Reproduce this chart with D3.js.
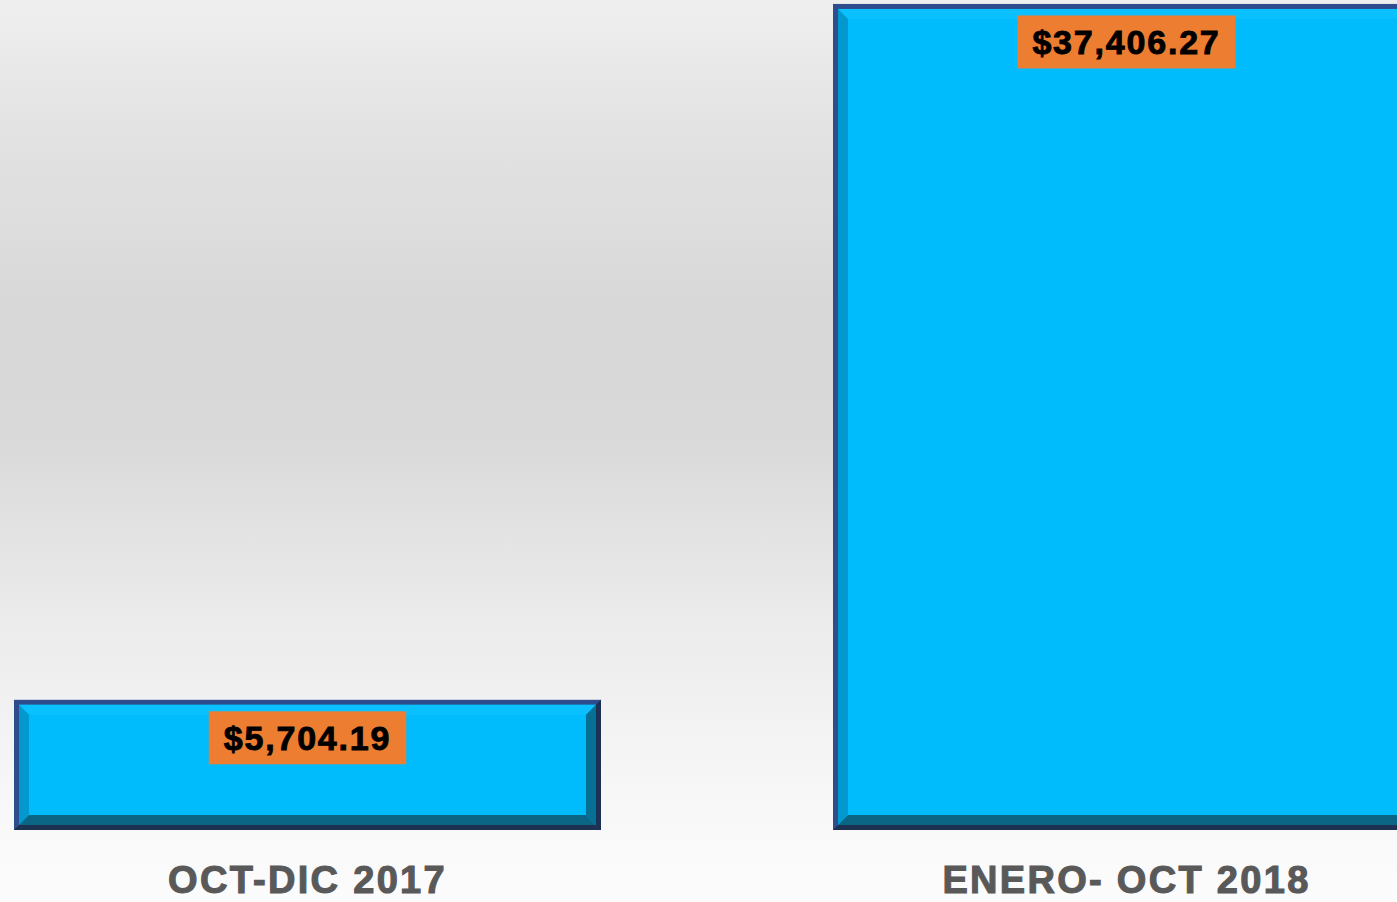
<!DOCTYPE html>
<html>
<head>
<meta charset="utf-8">
<script src="https://cdnjs.cloudflare.com/ajax/libs/d3/7.8.5/d3.min.js"></script>
<style>
  html, body { margin: 0; padding: 0; background: #ffffff; }
  svg { display: block; }
  text { font-family: "Liberation Sans", Arial, sans-serif; font-weight: bold; }
</style>
</head>
<body>
<svg id="chart" width="1397" height="902"></svg>
<script>
// Periods and amounts
const categories = ["OCT-DIC 2017", "ENERO- OCT 2018"];
const amounts = [5704.19, 37406.27];

const W = 1397, H = 902;
const svg = d3.select("#chart");

// Background: soft vertical grey gradient
const defs = svg.append("defs");
const bg = defs.append("linearGradient")
  .attr("id", "bg").attr("x1", 0).attr("y1", 0).attr("x2", 0).attr("y2", 1);
[[0, "#efefef"], [0.14, "#e3e3e3"], [0.36, "#d7d7d7"], [0.5, "#dadada"],
 [0.68, "#ebebeb"], [0.88, "#f7f7f7"], [1, "#fcfcfc"]]
  .forEach(([o, c]) => bg.append("stop").attr("offset", o).attr("stop-color", c));
svg.append("rect").attr("width", W).attr("height", H).attr("fill", "url(#bg)");

// Scales
const x = d3.scaleBand()
  .domain(categories)
  .range([-102, 1536])
  .paddingInner(0.2894)
  .paddingOuter(0.1447);

const y = d3.scaleLinear()
  .domain([0, 37700])
  .range([827.5, 0]);

const fmt = d3.format("$,.2f");
const data = categories.map((c, i) => ({ cat: c, value: amounts[i] }));

const bevel = 10;   // width of the chamfered edge
const frame = 5;    // outer dark frame

const bars = svg.append("g").selectAll("g.bar").data(data).join("g").attr("class", "bar");

bars.each(function (d) {
  const g = d3.select(this);
  const x0 = x(d.cat) - 2.5, x1 = x(d.cat) + x.bandwidth() + 2.5;
  const y0 = y(d.value) - 2.5, y1 = y(0) + 2.5;

  // outer frame: lighter navy top/left, darker navy bottom/right
  g.append("rect").attr("x", x0).attr("y", y0).attr("width", x1 - x0).attr("height", y1 - y0)
    .attr("fill", "#2d4d8c");
  g.append("path")
    .attr("d", `M${x1},${y0} L${x1},${y1} L${x0},${y1} L${x0 + frame},${y1 - frame} L${x1 - frame},${y1 - frame} L${x1 - frame},${y0 + frame} Z`)
    .attr("fill", "#1d3152");

  const ix0 = x0 + frame, ix1 = x1 - frame, iy0 = y0 + frame, iy1 = y1 - frame;
  // face
  g.append("rect").attr("x", ix0).attr("y", iy0).attr("width", ix1 - ix0).attr("height", iy1 - iy0)
    .attr("fill", "#00bcfd");
  // bevel sides
  const fx0 = ix0 + bevel, fx1 = ix1 - bevel, fy0 = iy0 + bevel, fy1 = iy1 - bevel;
  g.append("path").attr("d", `M${ix0},${iy0} L${ix1},${iy0} L${fx1},${fy0} L${fx0},${fy0} Z`).attr("fill", "#0ac0ff");
  g.append("path").attr("d", `M${ix0},${iy0} L${fx0},${fy0} L${fx0},${fy1} L${ix0},${iy1} Z`).attr("fill", "#0399cf");
  g.append("path").attr("d", `M${ix1},${iy0} L${ix1},${iy1} L${fx1},${fy1} L${fx1},${fy0} Z`).attr("fill", "#066f93");
  g.append("path").attr("d", `M${ix0},${iy1} L${ix1},${iy1} L${fx1},${fy1} L${fx0},${fy1} Z`).attr("fill", "#0a6684");

  // value label in an orange box
  const cx = x(d.cat) + x.bandwidth() / 2;
  const boxTop = y(d.value) + 9, boxH = 53;
  const lbl = g.append("g");
  const box = lbl.append("rect").attr("fill", "#ed7d31");
  const t = lbl.append("text")
    .attr("x", cx).attr("y", boxTop + boxH / 2 + 12)
    .attr("text-anchor", "middle")
    .attr("font-size", 34)
    .attr("letter-spacing", 1.8)
    .attr("fill", "#000")
    .attr("stroke", "#000")
    .attr("stroke-width", 0.9)
    .text(fmt(d.value));
  const tw = t.node().getComputedTextLength();
  box.attr("x", cx - tw / 2 - 15).attr("y", boxTop).attr("width", tw + 30).attr("height", boxH);
});

// Category axis labels
svg.append("g").selectAll("text").data(categories).join("text")
  .attr("x", d => x(d) + x.bandwidth() / 2)
  .attr("y", 893)
  .attr("text-anchor", "middle")
  .attr("font-size", 38)
  .attr("letter-spacing", 2.3)
  .attr("fill", "#595959")
  .attr("stroke", "#595959")
  .attr("stroke-width", 1.1)
  .text(d => d);
</script>
</body>
</html>
